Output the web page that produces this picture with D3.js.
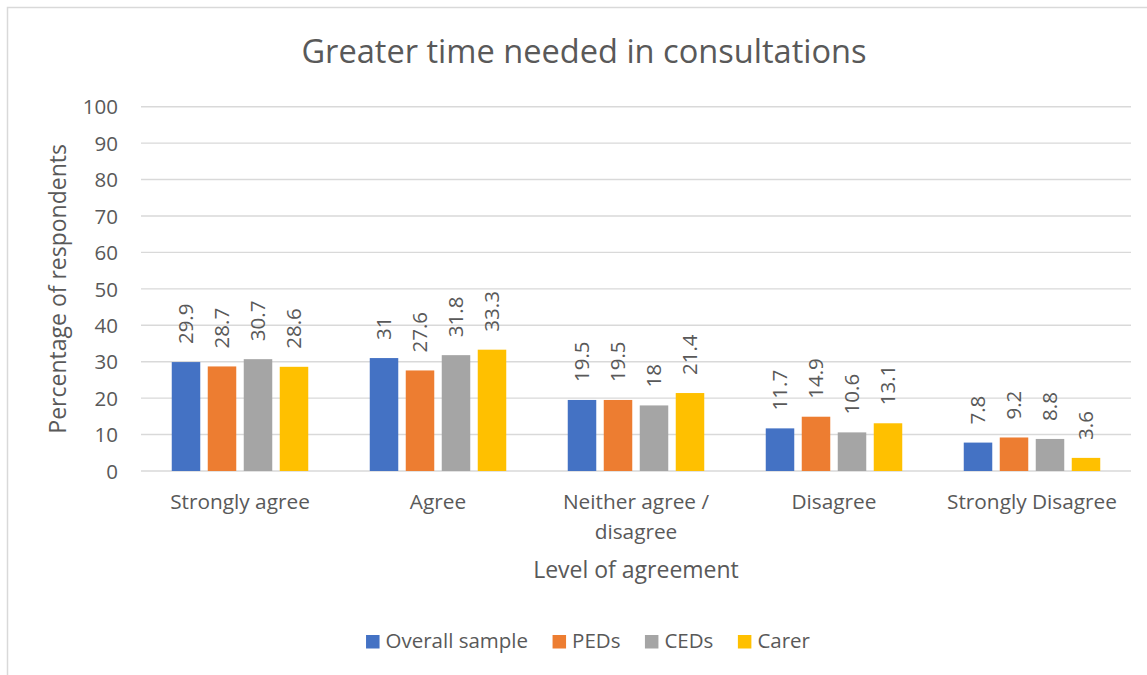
<!DOCTYPE html>
<html>
<head>
<meta charset="utf-8">
<script src="https://cdn.jsdelivr.net/npm/d3@7"></script>
<style>
	html,body{margin:0;padding:0;background:#fff;}
	svg{display:block;}
</style>
</head>
<body>
<div id="chart"></div>
<script>
var categories=['Strongly agree','Agree','Neither agree / disagree','Disagree','Strongly Disagree'];
var seriesNames=['Overall sample','PEDs','CEDs','Carer'];
var overall=[29.9,31,19.5,11.7,7.8];
var peds=[28.7,27.6,19.5,14.9,9.2];
var ceds=[30.7,31.8,18,10.6,8.8];
var carer=[28.6,33.3,21.4,13.1,3.6];
var yTicks=[0,10,20,30,40,50,60,70,80,90,100];
var colors=['#4472C4','#ED7D31','#A5A5A5','#FFC000'];

var W=1147,H=675,
	textColor='#595959',
	gridColor='#D9D9D9',
	font='"Open Sans", sans-serif',
	plot={left:141,right:1131,top:106.7,bottom:471};

var allSeries=[overall,peds,ceds,carer];

var svg=d3.select('#chart').append('svg')
	.attr('width',W).attr('height',H)
	.attr('font-family',font);

// chart area border (right/bottom fall outside the frame)
svg.append('rect')
	.attr('x',7.5).attr('y',7.5)
	.attr('width',W+20).attr('height',H+20)
	.attr('fill','#fff')
	.attr('stroke',gridColor).attr('stroke-width',1.5);

var x=d3.scaleBand().domain(categories).range([plot.left,plot.right]).padding(0);
var step=x.bandwidth();
var xs=d3.scaleBand().domain(seriesNames)
	.range([step*0.1553,step*0.8447])
	.paddingInner(0.208).paddingOuter(0);
var y=d3.scaleLinear().domain([0,100]).range([plot.bottom,plot.top]);

// title
svg.append('text')
	.attr('x',584).attr('y',63)
	.attr('text-anchor','middle')
	.attr('font-size',32.6)
	.attr('fill',textColor)
	.text('Greater time needed in consultations');

// gridlines
var gGrid=svg.append('g');
gGrid.selectAll('line').data(yTicks).enter().append('line')
	.attr('x1',plot.left).attr('x2',plot.right)
	.attr('y1',function(d){return y(d)}).attr('y2',function(d){return y(d)})
	.attr('stroke',gridColor).attr('stroke-width',1.4);

// y axis
var yAxis=d3.axisLeft(y).tickValues(yTicks).tickSize(0).tickPadding(0);
var gY=svg.append('g').attr('transform','translate(118,0)').call(yAxis);
gY.select('.domain').remove();
gY.selectAll('text')
	.attr('font-family',font).attr('font-size',20.5)
	.attr('fill',textColor).attr('dy','0.35em');

svg.append('text')
	.attr('transform','translate(66,'+((plot.top+plot.bottom)/2)+') rotate(-90)')
	.attr('text-anchor','middle')
	.attr('font-size',23)
	.attr('fill',textColor)
	.text('Percentage of respondents');

// bars
var gBars=svg.append('g');
allSeries.forEach(function(vals,s){
	var g=gBars.append('g').attr('fill',colors[s]);
	g.selectAll('rect').data(vals).enter().append('rect')
		.attr('x',function(d,i){return x(categories[i])+xs(seriesNames[s])})
		.attr('y',function(d){return y(d)})
		.attr('width',xs.bandwidth())
		.attr('height',function(d){return y(0)-y(d)});
});

// data labels, rotated
var gLabels=svg.append('g')
	.attr('font-size',20.5).attr('fill',textColor);
allSeries.forEach(function(vals,s){
	gLabels.selectAll(null).data(vals).enter().append('text')
		.attr('transform',function(d,i){
			var cx=x(categories[i])+xs(seriesNames[s])+xs.bandwidth()/2+7.3;
			return 'translate('+cx+','+(y(d)-18)+') rotate(-90)';
		})
		.text(function(d){return d});
});

// category labels
var gCat=svg.append('g')
	.attr('font-size',20.8).attr('fill',textColor).attr('text-anchor','middle');
categories.forEach(function(c){
	var lines=c=='Neither agree / disagree'?['Neither agree /','disagree']:[c];
	var t=gCat.append('text').attr('x',x(c)+step/2).attr('y',509.3);
	lines.forEach(function(l,k){
		t.append('tspan').attr('x',x(c)+step/2).attr('dy',k?30:0).text(l);
	});
});

svg.append('text')
	.attr('x',(plot.left+plot.right)/2).attr('y',577.7)
	.attr('text-anchor','middle')
	.attr('font-size',23)
	.attr('fill',textColor)
	.text('Level of agreement');

// legend
var gLegend=svg.append('g').attr('font-size',20.5).attr('fill',textColor);
var lx=0;
seriesNames.forEach(function(n,s){
	var g=gLegend.append('g');
	g.append('rect').attr('x',0).attr('y',-13).attr('width',13.5).attr('height',13.5).attr('fill',colors[s]);
	var t=g.append('text').attr('x',19.5).attr('y',0).text(n);
	g.attr('transform','translate('+lx+',0)');
	lx+=19.5+t.node().getComputedTextLength()+24.5;
});
lx-=24.5;
gLegend.attr('transform','translate('+(588-lx/2)+',648)');
</script>
</body>
</html>
